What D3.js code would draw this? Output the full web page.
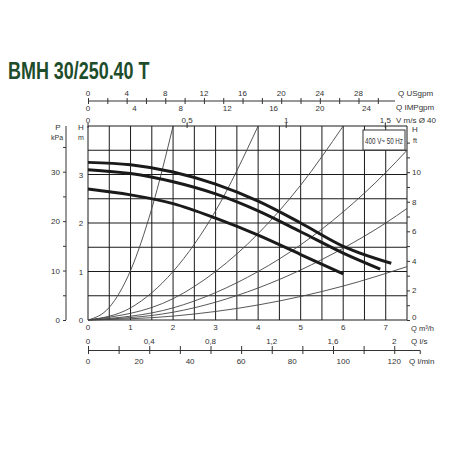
<!DOCTYPE html>
<html><head><meta charset="utf-8">
<script src="https://cdnjs.cloudflare.com/ajax/libs/d3/7.8.5/d3.min.js"></script>
<style>body{margin:0;background:#fff}text{font-family:Arimo,"Liberation Sans",Roboto,sans-serif;fill:#333}</style>
</head><body>
<svg id="chart" width="450" height="450"></svg>
<script>
// pump curves, Q in m3/h, H in m
var pumpHigh = [[0,3.25],[1,3.2],[2,3.05],[3,2.8],[4,2.45],[5,2.0],[6,1.52],[7.13,1.17]];
var pumpMid  = [[0,3.1],[1,3.02],[2,2.85],[3,2.6],[4,2.25],[5,1.82],[6,1.38],[6.87,1.05]];
var pumpLow  = [[0,2.7],[1,2.58],[2,2.4],[3,2.1],[4,1.75],[5,1.35],[6,0.95]];
// system (resistance) curves
var sys1 = [[0,0],[0.5,0.26],[1,1.02],[1.5,2.3],[2,4.0]];
var sys2 = [[0,0],[1,0.25],[2,1.0],[3,2.25],[4,4.0]];
var sys3 = [[0,0],[2,0.44],[3,1.0],[4,1.78],[5,2.78],[6,4.0]];
var sys4 = [[0,0],[2,0.25],[4,1.0],[5,1.55],[6,2.23],[7,3.04],[7.5,3.5]];
var sys5 = [[0,0],[2,0.16],[4,0.66],[6,1.48],[7,2.0],[7.5,2.3]];
var sys6 = [[0,0],[2,0.08],[4,0.31],[6,0.7],[7.5,1.1]];
var qTicks = [0,1,2,3,4,5,6,7];
var hTicks = [0,1,2,3];
var kpaTicks = [0,10,20,30];
var ftTicks = [0,2,4,6,8,10];
var usTicks = [0,4,8,12,16,20,24,28];
var impTicks = [0,4,8,12,16,20,24];
var velTicks = [0,0.5,1,1.5];
var lsTicks = [0,0.4,0.8,1.2,1.6,2];
var lminTicks = [0,20,40,60,80,100,120];

var svg = d3.select("#chart");
var x = d3.scaleLinear().domain([0,7.5]).range([88,407]);
var y = d3.scaleLinear().domain([0,4]).range([320,126]);
var fmt = function(v){ return String(v).replace(".", ","); };

svg.append("text").attr("transform","translate(8,79) scale(0.78,1)").text("BMH 30/250.40 T")
  .style("font-weight","bold").style("font-size","23px").style("fill","#1d4d2b");

var g = svg.append("g");
// grid
d3.range(0,7.51,0.5).forEach(function(q){
  g.append("line").attr("x1",x(q)).attr("x2",x(q)).attr("y1",126).attr("y2",320)
    .attr("stroke","#1a1a1a").attr("stroke-width",1);
});
d3.range(0,4.01,0.5).forEach(function(h){
  g.append("line").attr("x1",88).attr("x2",407).attr("y1",y(h)).attr("y2",y(h))
    .attr("stroke","#1a1a1a").attr("stroke-width",1);
});

var line = d3.line().x(function(d){return x(d[0]);}).y(function(d){return y(d[1]);}).curve(d3.curveMonotoneX);
[sys1,sys2,sys3,sys4,sys5,sys6].forEach(function(s){
  g.append("path").attr("d",line(s)).attr("fill","none").attr("stroke","#444").attr("stroke-width",0.9);
});
[pumpHigh,pumpMid,pumpLow].forEach(function(s){
  g.append("path").attr("d",line(s)).attr("fill","none").attr("stroke","#1a1a1a").attr("stroke-width",3);
});

// legend box
svg.append("rect").attr("x",363).attr("y",130).attr("width",42).attr("height",20)
  .attr("fill","#fff").attr("stroke","#333");
svg.append("text").attr("x",384).attr("y",143.5).attr("text-anchor","middle")
  .attr("textLength",38).attr("lengthAdjust","spacingAndGlyphs")
  .style("font-size","9px").text("400 V~ 50 Hz");

function small(t,xx,yy,anchor,size){
  return svg.append("text").attr("x",xx).attr("y",yy).attr("text-anchor",anchor||"middle")
    .style("font-size",(size||8)+"px").text(t);
}
// bottom m3/h labels
qTicks.forEach(function(q){ small(q, x(q), 330); });
small("Q m³/h",411,331,"start",7.5);
// l/s
lsTicks.forEach(function(v){ small(fmt(v), x(v*3.6), 344); });
small("Q l/s",411,344,"start");
// l/min axis
var lmin = d3.scaleLinear().domain([0,130]).range([x(0), x(7.8)]);
svg.append("g").attr("transform","translate(0,350)")
  .call(d3.axisBottom(lmin).tickValues(d3.range(0,121,12)).tickSize(4).tickFormat(""))
  .call(function(a){ a.selectAll("line").attr("y1",-4); });
lminTicks.forEach(function(v){ small(v, lmin(v), 364); });
small("Q l/min",409,364,"start");

// top USgpm axis
var us = d3.scaleLinear().domain([0,7.5*4.403]).range([88,407]);
svg.append("g").attr("transform","translate(0,101)")
  .call(d3.axisTop(us).tickValues(d3.range(0,31,2)).tickSize(3).tickFormat(""))
  .call(function(a){ a.selectAll("line").attr("y2",-3).attr("y1",3); a.select(".domain").attr("d","M88,0H395"); });
usTicks.forEach(function(v){ small(v, us(v), 96); });
small("Q USgpm",398,96,"start");
var imp = d3.scaleLinear().domain([0,7.5*3.666]).range([88,407]);
impTicks.forEach(function(v){ small(v, imp(v), 111); });
small("Q IMPgpm",396,110,"start");
var vel = d3.scaleLinear().domain([0,7.5/4.66]).range([88,407]);
velTicks.forEach(function(v){
  small(fmt(v), vel(v), 123);
  svg.append("line").attr("x1",vel(v)).attr("x2",vel(v)).attr("y1",123).attr("y2",128).attr("stroke","#333");
});
small("V m/s Ø 40",396,123,"start");

// left H labels
hTicks.forEach(function(h){ small(h, 81, y(h)+3); });
small("H",81,130); small("m",81,140,"middle",7);
// kPa axis
var kpa = d3.scaleLinear().domain([0,4*9.81]).range([320,126]);
svg.append("g").attr("transform","translate(66,0)")
  .call(d3.axisLeft(kpa).tickValues(d3.range(0,36,5)).tickSize(3).tickFormat(""))
  .call(function(a){ a.select(".domain").attr("d","M0,126V320"); });
kpaTicks.forEach(function(v){ small(v, 60, kpa(v)+3, "end"); });
small("P",58,130); small("kPa",57,140,"middle",7);
// ft axis
var ft = d3.scaleLinear().domain([0,4/0.3048]).range([320,126]);
svg.append("g").attr("transform","translate(407,0)")
  .call(d3.axisRight(ft).tickValues(d3.range(0,13,1)).tickSize(3).tickFormat(""))
  .call(function(a){ a.select(".domain").remove(); });
ftTicks.forEach(function(v){ small(v, 412, ft(v)+(v===0?0:3), "start"); });
small("H",415,132); small("ft",415,143,"middle",7);
svg.selectAll(".tick line,.domain").attr("stroke","#333");
</script>
</body></html>
